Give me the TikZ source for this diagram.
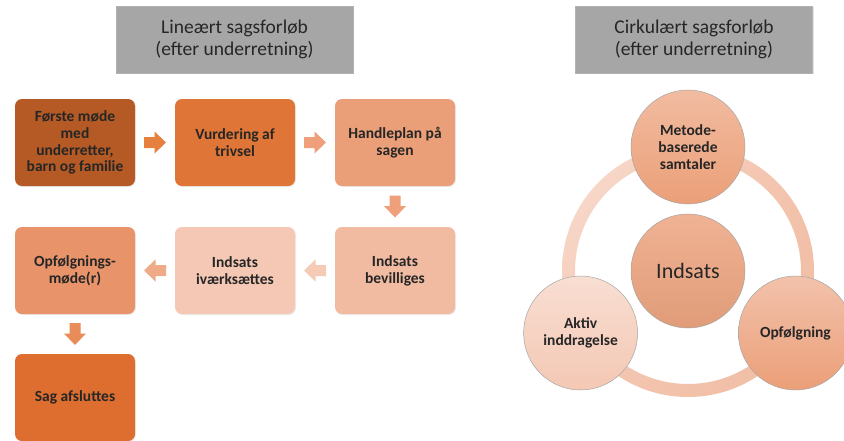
\documentclass[tikz,border=0pt]{standalone}
\usepackage{fontspec}
\setmainfont{Carlito}
\usetikzlibrary{calc,shadows,shadings}
\definecolor{titlegray}{HTML}{A6A6A6}
\definecolor{cA}{HTML}{B55A24}
\definecolor{cB}{HTML}{DF7536}
\definecolor{cC}{HTML}{EB9F78}
\definecolor{cD}{HTML}{F1BBA2}
\definecolor{cE}{HTML}{F4C8B4}
\definecolor{cF}{HTML}{E8936A}
\definecolor{cG}{HTML}{DD6E2F}
\definecolor{arA}{HTML}{E5803F}
\definecolor{arB}{HTML}{EFA07A}
\definecolor{arC}{HTML}{F5CBB6}
\definecolor{arD}{HTML}{EFAA88}
\definecolor{arE}{HTML}{EA8B5A}
\definecolor{txt}{HTML}{262626}
\tikzset{
  titlebox/.style={fill=titlegray, draw=gray!60, line width=0.6pt, minimum width=237pt, minimum height=67pt,
    align=center, font=\fontsize{19.5}{22.5}\selectfont, text=txt, inner sep=0pt,
    drop shadow={opacity=0.2, shadow xshift=1pt, shadow yshift=-1pt}},
  stepbox/.style={rounded corners=7pt, minimum width=120pt, minimum height=87pt,
    align=center, font=\fontsize{15.5}{16.8}\selectfont\bfseries, text=txt, inner sep=0pt,
    drop shadow={opacity=0.15, shadow xshift=1pt, shadow yshift=-1pt}},
  barrow/.pic={\fill[pic actions] (-11,-5.5) -- (-0.5,-5.5) -- (-0.5,-11) -- (11,0) -- (-0.5,11) -- (-0.5,5.5) -- (-11,5.5) -- cycle;},
  ball/.style={circle, minimum size=114pt, inner sep=0pt, draw=gray!70, line width=0.5pt, align=center,
    font=\fontsize{15.5}{16.8}\selectfont\bfseries, text=txt},
}
\begin{document}
\begin{tikzpicture}[x=1pt,y=-1pt]
\useasboundingbox (0,0) rectangle (844,440);
\fill[white] (0,0) rectangle (844,440);

% titles
\node[titlebox] (t1) at (234.5,39.5) {Lineært sagsforløb\\(efter underretning)};
\node[titlebox] (t2) at (694,39.5) {Cirkulært sagsforløb\\(efter underretning)};

% linear boxes
\node[stepbox, fill=cA] (b1) at (75,142.5) {Første møde\\med\\underretter,\\barn og familie};
\node[stepbox, fill=cB] (b2) at (235,142.5) {Vurdering af\\trivsel};
\node[stepbox, fill=cC] (b3) at (395,142.5) {Handleplan på\\sagen};
\node[stepbox, fill=cD] (b4) at (395,270.5) {Indsats\\bevilliges};
\node[stepbox, fill=cE] (b5) at (235,270.5) {Indsats\\iværksættes};
\node[stepbox, fill=cF] (b6) at (75,270.5) {Opfølgnings-\\møde(r)};
\node[stepbox, fill=cG] (b7) at (75,397.5) {Sag afsluttes};

% block arrows
\pic[fill=arA] at ($(b1.east)!0.5!(b2.west)$) {barrow};
\pic[fill=arB] at ($(b2.east)!0.5!(b3.west)$) {barrow};
\pic[fill=arB, rotate=-90] at ($(b3.south)!0.5!(b4.north)$) {barrow};
\pic[fill=arC, rotate=180] at ($(b4.west)!0.5!(b5.east)$) {barrow};
\pic[fill=arD, rotate=180] at ($(b5.west)!0.5!(b6.east)$) {barrow};
\pic[fill=arE, rotate=-90] at ($(b6.south)!0.5!(b7.north)$) {barrow};

% circular diagram
\coordinate (cc) at (688,271);
\shade[even odd rule, upper left=white!40!cE, upper right=cE!85!cC, lower left=cE!95!cC, lower right=cE!70!cC]
  (cc) circle (126) (cc) circle (113);
\node[ball, top color=cC!80!white, bottom color=cC!95!black!95] (c0) at (cc) {\fontsize{22}{26}\selectfont\mdseries Indsats};
\node[ball, top color=cC!70!white, bottom color=cC] (c1) at ($(cc)+(0,-124)$) {Metode-\\baserede\\samtaler};
\node[ball, top color=cE!60!white, bottom color=cE] (c2) at ($(cc)+(-107.4,62)$) {Aktiv\\inddragelse};
\node[ball, top color=cD!90!white, bottom color=cC] (c3) at ($(cc)+(107.4,62)$) {Opfølgning};
\end{tikzpicture}
\end{document}
